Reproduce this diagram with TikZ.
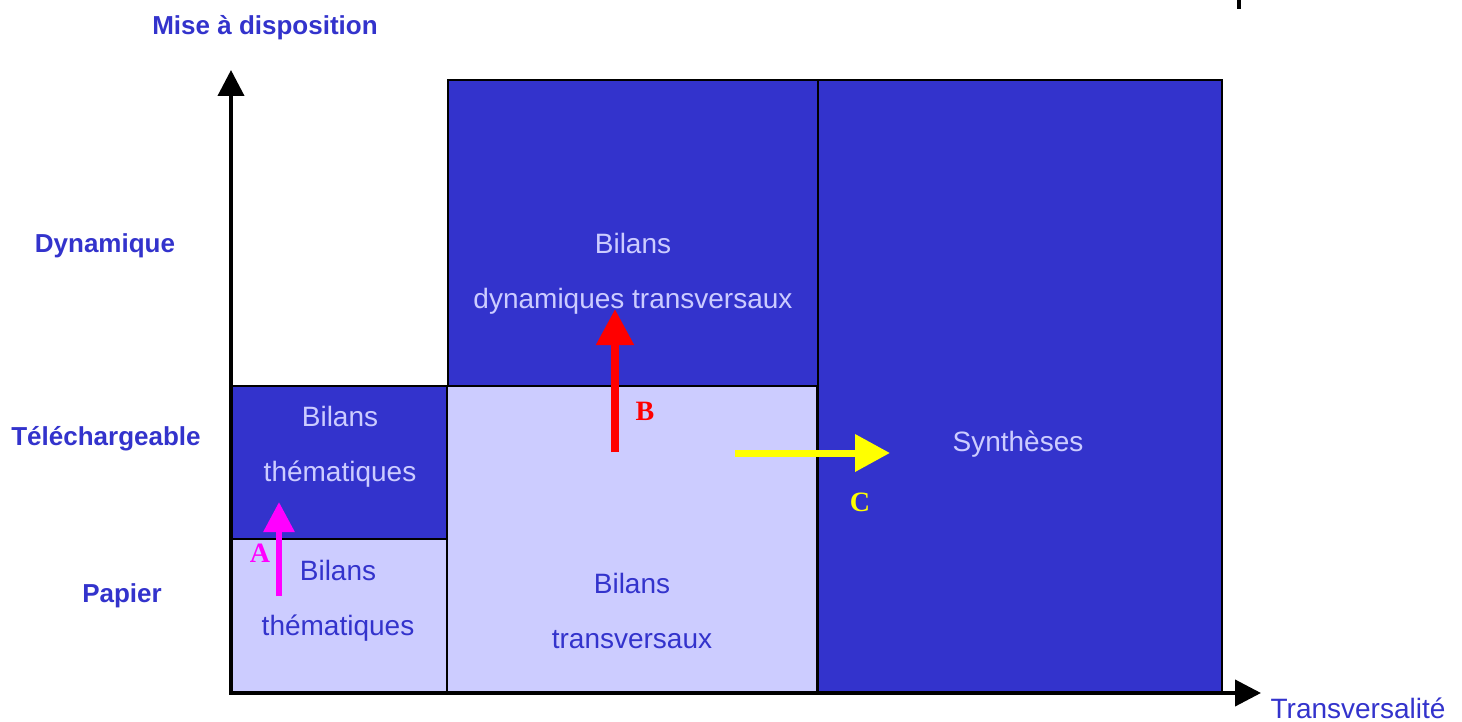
\documentclass[tikz,border=0pt]{standalone}
\usepackage{fontspec}
\setmainfont{Liberation Sans}
\newfontfamily\serifabc{Liberation Serif}
\usetikzlibrary{arrows.meta}
\definecolor{darkb}{HTML}{3333CC}
\definecolor{lightb}{HTML}{CCCCFF}
\definecolor{magA}{HTML}{FF00FF}
\definecolor{yelC}{HTML}{FFFF00}
\begin{document}
\begin{tikzpicture}[x=1pt,y=-1pt,
  boxbase/.style={draw=black,line width=2pt,inner sep=0pt,outer sep=0pt,anchor=north west},
  darkbox/.style={boxbase,fill=darkb},
  lightbox/.style={boxbase,fill=lightb},
  intext/.style={align=center,font=\fontsize{28}{55}\selectfont},
  ondark/.style={intext,text=lightb},
  onlight/.style={intext,text=darkb},
  axislabel/.style={text=darkb,font=\fontsize{26}{30}\selectfont\bfseries},
  axisline/.style={line width=4pt,-{Triangle[length=26pt,width=26pt]}},
  letter/.style={font=\fontsize{28}{30}\selectfont\serifabc\bfseries}
]
\useasboundingbox (0,0) rectangle (1462,722);

% boxes
\node[lightbox,minimum width=215pt,minimum height=153pt] (p1) at (232,539) {};
\node[darkbox,minimum width=215pt,minimum height=153pt] (t1) at (232,386) {};
\node[lightbox,minimum width=370pt,minimum height=306pt] (t2) at (447,386) {};
\node[darkbox,minimum width=370pt,minimum height=306pt] (d2) at (448,80) {};
\node[darkbox,minimum width=404pt,minimum height=612pt] (s3) at (818,80) {};

% box texts
\node[onlight] (p1t) at (338,601) {Bilans\\thématiques};
\node[ondark] (t1t) at (340,447) {Bilans\\thématiques};
\node[onlight] (t2t) at (632,611) {Bilans\\transversaux};
\node[ondark] (d2t) at (633,274) {Bilans\\dynamiques transversaux};
\node[ondark] (s3t) at (1018,444) {Synthèses};

% axes
\coordinate (o) at (231,693);
\coordinate (ytip) at (231,70);
\coordinate (xtip) at (1261,693);
\draw[axisline] (o) -- (ytip);
\draw[axisline] ([xshift=-2pt]o) -- (xtip);

% axis labels
\node[axislabel] (ly) at (265,28) {Mise à disposition};
\node[axislabel] (l1) at (105,246) {Dynamique};
\node[axislabel] (l2) at (106,439) {Téléchargeable};
\node[axislabel] (l3) at (122,596) {Papier};
\node[text=darkb,font=\fontsize{28}{30}\selectfont] (lx) at (1358,708) {Transversalité};

% top mark
\coordinate (m1) at (1239,0);
\coordinate (m2) at (1239,9);
\draw[line width=4pt] (m1) -- (m2);

% arrows
\coordinate (a0) at (279,596);
\coordinate (a1) at (279,502);
\draw[magA,line width=6pt,-{Triangle[length=30pt,width=30pt]}] (a0) -- (a1);
\node[letter,text=magA] (la) at (260,553) {A};

\coordinate (b0) at (615,452);
\coordinate (b1) at (615,309);
\draw[red,line width=8pt,-{Triangle[length=36pt,width=36pt]}] (b0) -- (b1);
\node[letter,text=red] (lb) at (645,411) {B};

\coordinate (c0) at (735,453);
\coordinate (c1) at (890,453);
\draw[yelC,line width=7pt,-{Triangle[length=35pt,width=36pt]}] (c0) -- (c1);
\node[letter,text=yelC] (lc) at (860,502) {C};
\end{tikzpicture}
\end{document}
